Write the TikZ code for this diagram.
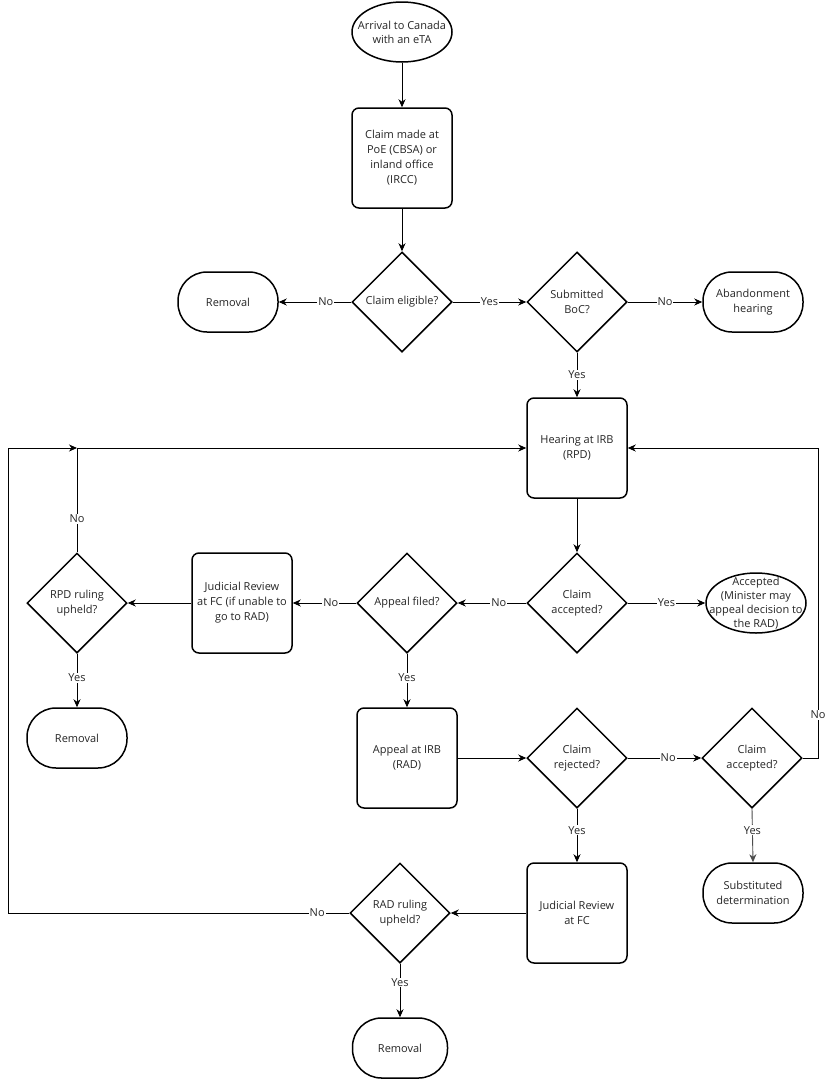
\documentclass[tikz,border=0pt]{standalone}
\usepackage{fontspec}
\setmainfont{Open Sans}
\usetikzlibrary{shapes.geometric,arrows.meta}
\begin{document}
\begin{tikzpicture}[x=1pt,y=-1pt,
  every node/.style={font=\fontsize{11}{15}\selectfont, align=center, text=black!85},
  box/.style={draw=black, line width=1.5pt, rounded corners=7pt, minimum width=100pt, minimum height=100pt, inner sep=0pt},
  dia/.style={draw=black, line width=1.5pt, diamond, minimum width=100pt, minimum height=100pt, inner sep=0pt},
  term/.style={draw=black, line width=1.5pt, rounded corners=29pt, minimum width=100pt, minimum height=60pt, inner sep=0pt},
  ell/.style={draw=black, line width=1.5pt, ellipse, inner sep=0pt, minimum width=100pt, minimum height=60pt},
  conn/.style={draw=black, line width=0.9pt, -{Stealth[length=8pt,width=7pt,inset=2.5pt]}},
  lbl/.style={fill=white, inner sep=1pt, font=\fontsize{11}{12}\selectfont}]
\useasboundingbox (0,0) rectangle (826,1079);
\fill[white] (0,0) rectangle (826,1079);

\node[ell] (start) at (402,32) {};
\node[font=\fontsize{11}{14}\selectfont] (starttxt) at (start) {Arrival to Canada\\with an eTA};
\node[box] (claim) at (402,158) {Claim made at\\PoE (CBSA) or\\inland office\\(IRCC)};
\node[dia] (elig) at (402,302) {Claim eligible?};
\node[term] (rem1) at (228,302) {Removal};
\node[dia] (boc) at (577,302) {Submitted\\BoC?};
\node[term] (aband) at (753,302) {Abandonment\\hearing};
\node[box] (hear) at (577,448) {Hearing at IRB\\(RPD)};
\node[dia] (acc1) at (577,603) {Claim\\accepted?};
\node[ell] (accd) at (756,603) {};
\node[font=\fontsize{11}{14.2}\selectfont] (accdtxt) at (accd) {Accepted\\(Minister may\\appeal decision to\\the RAD)};
\node[dia] (appf) at (407,603) {Appeal filed?};
\node[box] (jr1) at (242,603) {Judicial Review\\at FC (if unable to\\go to RAD)};
\node[dia] (rpd) at (77,603) {RPD ruling\\upheld?};
\node[term] (rem2) at (77,738) {Removal};
\node[box] (rad) at (407,758) {Appeal at IRB\\(RAD)};
\node[dia] (rej) at (577,758) {Claim\\rejected?};
\node[dia] (acc2) at (752,758) {Claim\\accepted?};
\node[term] (subst) at (753,893) {Substituted\\determination};
\node[box] (jr2) at (577,913) {Judicial Review\\at FC};
\node[dia] (radup) at (400,913) {RAD ruling\\upheld?};
\node[term, minimum width=95pt] (rem3) at (400,1048) {Removal};

\coordinate (lc) at (8,448);
\coordinate (lj) at (77,448);
\coordinate (rc) at (818,448);

\draw[conn] (start) -- (claim);
\draw[conn] (claim) -- (elig);
\draw[conn] (elig.west) -- node[lbl, pos=0.35]{No} (rem1.east);
\draw[conn] (elig.east) -- node[lbl, pos=0.5]{Yes} (boc.west);
\draw[conn] (boc.east) -- node[lbl]{No} (aband.west);
\draw[conn] (boc.south) -- node[lbl]{Yes} (hear.north);
\draw[conn] (hear.south) -- (acc1.north);
\draw[conn] (acc1.east) -- node[lbl, pos=0.5]{Yes} (accd.west);
\draw[conn] (acc1.west) -- node[lbl, pos=0.4]{No} (appf.east);
\draw[conn] (appf.west) -- node[lbl, pos=0.4]{No} (jr1.east);
\draw[conn] (jr1.west) -- (rpd.east);
\draw[conn] (rpd.north) |- node[lbl, pos=0.16]{No} (hear.west);
\draw[conn] (rpd.south) -- node[lbl, pos=0.45]{Yes} (rem2.north);
\draw[conn] (appf.south) -- node[lbl, pos=0.45]{Yes} (rad.north);
\draw[conn] (rad.east) -- (rej.west);
\draw[conn] (rej.east) -- node[lbl, pos=0.55]{No} (acc2.west);
\draw[conn] (rej.south) -- node[lbl, pos=0.4]{Yes} (jr2.north);
\draw[conn, draw=black!70] (acc2.south) -- node[lbl, pos=0.4]{Yes} (subst.north);
\draw[conn] (acc2.east) -| node[lbl, pos=0.57]{No} (rc) -- (hear.east);
\draw[conn] (jr2.west) -- (radup.east);
\draw[conn] (radup.west) -| node[lbl, pos=0.047]{No} (lc) -- (lj);
\draw[conn] (radup.south) -- node[lbl, pos=0.35]{Yes} (rem3.north);
\end{tikzpicture}
\end{document}
